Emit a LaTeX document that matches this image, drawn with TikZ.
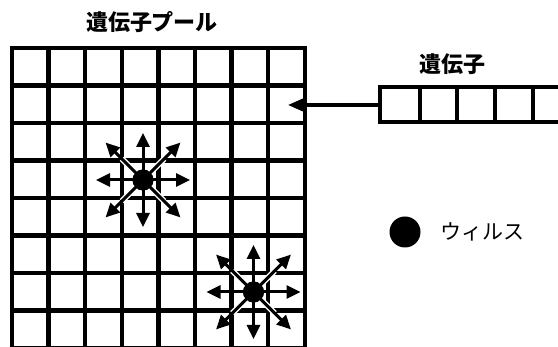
\documentclass[tikz,border=0pt]{standalone}
\usepackage{fontspec}
\newfontfamily\jp{Noto Sans CJK JP}
\usetikzlibrary{arrows.meta}
\tikzset{
  gridline/.style={line width=4.4pt, line cap=rect},
  genebox/.style={line width=3.6pt},
  virus/.style={circle, fill=black, inner sep=0pt, minimum size=21pt},
  spread/.style={line width=3pt, -{Triangle[length=14pt,width=13pt]}},
  halo/.style={line width=6pt, white},
  feed/.style={line width=3.2pt, -{Triangle[length=16pt,width=13pt]}},
  label/.style={font=\jp\bfseries\fontsize{22}{22}\selectfont, inner sep=0pt},
  legend/.style={font=\jp\fontsize{21}{21}\selectfont, inner sep=0pt, anchor=west}
}
\begin{document}
\begin{tikzpicture}[x=1pt,y=-1pt]
\useasboundingbox (0,0) rectangle (558,347);
\fill[white] (0,0) rectangle (558,347);
\clip (0,0) rectangle (558,347);
% gene pool grid
\node[inner sep=0pt, minimum width=293pt, minimum height=300pt, anchor=north west] (pool) at (12,48) {};
\foreach \i in {0,...,8} {
  \draw[gridline] ({12+\i*36.6},48) -- ({12+\i*36.6},349);
  \draw[gridline] (12,{48+\i*37.5}) -- (305,{48+\i*37.5});
}
\node[label] (pooltitle) at (152,22) {遺伝子プール};
% viruses with spreading arrows
\foreach \cx/\cy/\nm in {143/180/v1, 253.5/292/v2} {
  \node[virus] (\nm) at (\cx,\cy) {};
  \foreach \a in {45,135,225,315} {
    \draw[halo] (\nm.center) -- ++(\a:30);
  }
  \foreach \a in {0,90,180,270} {
    \draw[spread] (\nm.center) -- ++(\a:47);
  }
  \foreach \a in {45,135,225,315} {
    \draw[spread] (\nm.center) -- ++(\a:53);
  }
  \node[virus] at (\nm.center) {};
}
% gene
\node[label] (genetitle) at (452,64) {遺伝子};
\node[inner sep=0pt, minimum width=200pt, minimum height=35pt, anchor=north west] (gene) at (380,87) {};
\draw[genebox] (380,87) rectangle (590,122);
\foreach \x in {420,457,495,533} {
  \draw[genebox] (\x,87) -- (\x,122);
}
\coordinate (entry) at (288,105);
\draw[feed] (gene.west |- entry) -- (entry);
% legend
\node[virus, minimum size=31pt] (legdot) at (405,232) {};
\node[legend] (legtext) at (440,232) {ウィルス};
\end{tikzpicture}
\end{document}
